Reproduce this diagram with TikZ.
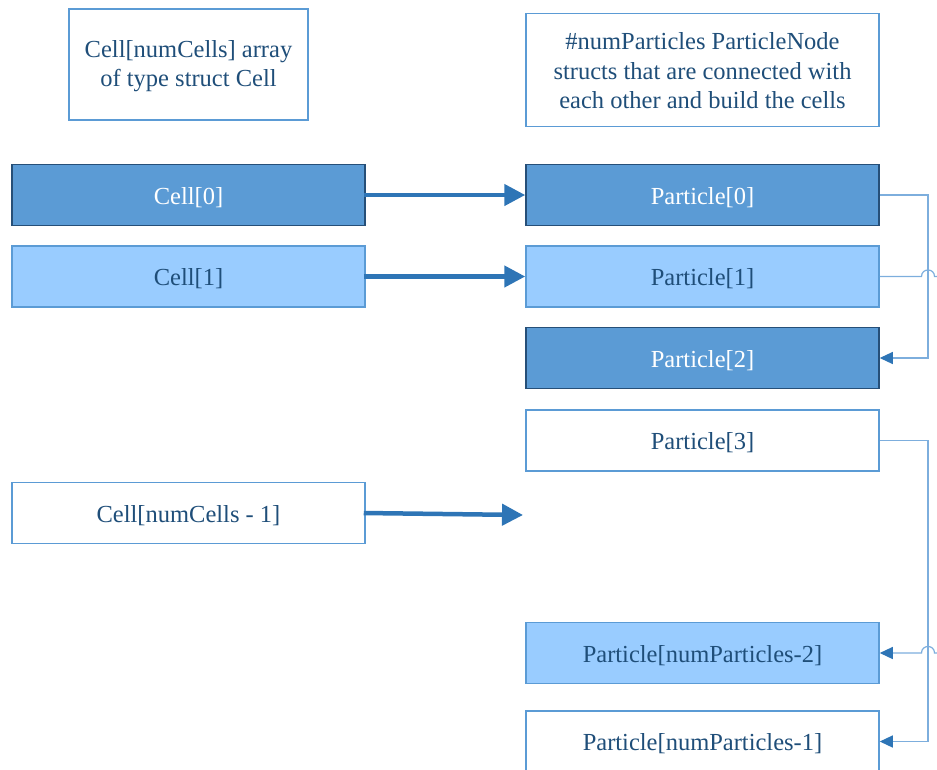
\documentclass[tikz,border=0pt]{standalone}
\usepackage{fontspec}
\setmainfont{Liberation Serif}
\usetikzlibrary{arrows.meta}
\definecolor{boxdark}{HTML}{5B9BD5}
\definecolor{boxlight}{HTML}{99CCFF}
\definecolor{edgedark}{HTML}{264F78}
\definecolor{edgelight}{HTML}{5B9BD5}
\definecolor{inktext}{HTML}{1F4E79}
\definecolor{arrowblue}{HTML}{2E75B6}
\definecolor{linkline}{HTML}{7DAEDD}

\begin{document}
\begin{tikzpicture}[x=1pt,y=-1pt,
  every node/.style={font=\fontsize{24.5}{29.5}\selectfont, inner sep=0pt},
  slot/.style={draw, line width=1.5pt, minimum width=353pt, minimum height=61pt,
    text height=22pt, text depth=4pt},
  darkslot/.style={slot, fill=boxdark, draw=edgedark, text=white},
  lightslot/.style={slot, fill=boxlight, draw=edgelight, text=inktext},
  plainslot/.style={slot, fill=white, draw=edgelight, text=inktext},
  caption/.style={draw=edgelight, line width=1.5pt},
  captext/.style={text=inktext, align=center},
  bigarrow/.style={draw=arrowblue, line width=4.5pt, -{Triangle[length=21pt,width=21pt]}},
  link/.style={draw=linkline, line width=1.2pt},
  linktip/.style={-{Triangle[length=13pt,width=12pt,color=arrowblue]}}
]
\useasboundingbox (0,0) rectangle (937,769);
\clip (0,0) rectangle (937,769);

% captions
\node[caption, minimum width=239pt, minimum height=111pt] (capcells) at (188.5,64.5) {};
\node[captext] (capcellstext) at (188.5,66) {Cell[numCells] array\\of type struct Cell};
\node[caption, minimum width=353pt, minimum height=113pt] (capparts) at (702.5,70) {};
\node[captext] (cappartstext) at (702.5,71)
  {\#numParticles ParticleNode\\structs that are connected with\\each other and build the cells};

% cell array
\node[darkslot]  (c0) at (188.5,195)   {Cell[0]};
\node[lightslot] (c1) at (188.5,276.5) {Cell[1]};
\node[plainslot] (cn) at (188.5,513)   {Cell[numCells - 1]};

% particle nodes
\node[darkslot]  (p0)  at (702.5,195)   {Particle[0]};
\node[lightslot] (p1)  at (702.5,276.5) {Particle[1]};
\node[darkslot]  (p2)  at (702.5,358)   {Particle[2]};
\node[plainslot] (p3)  at (702.5,440.5) {Particle[3]};
\node[lightslot] (pn2) at (702.5,653)   {Particle[numParticles-2]};
\node[plainslot] (pn1) at (702.5,741.5) {Particle[numParticles-1]};

% cell -> first particle
\coordinate (cend) at (523,515);
\draw[bigarrow] ([xshift=-2pt]c0.east) -- (p0.west);
\draw[bigarrow] ([xshift=-2pt]c1.east) -- (p1.west);
\draw[bigarrow] ([xshift=-2pt]cn.east) -- (cend);

% next-particle links
\coordinate (p1out) at (937,276.5);
\coordinate (pn2in) at (937,653);
\draw[link, linktip] (p0.east) -- (928,195) |- (p2.east);
\draw[link, linktip] (p3.east) -- (928,440.5) |- (pn1.east);
\draw[link] (p1.east) -- (921.5,276.5)
  .. controls (921.5,267.8) and (934.5,267.8) .. (934.5,276.5) -- (p1out);
\draw[link, linktip] (pn2in) -- (934.5,653)
  .. controls (934.5,644.3) and (921.5,644.3) .. (921.5,653) -- (pn2.east);
\end{tikzpicture}
\end{document}
